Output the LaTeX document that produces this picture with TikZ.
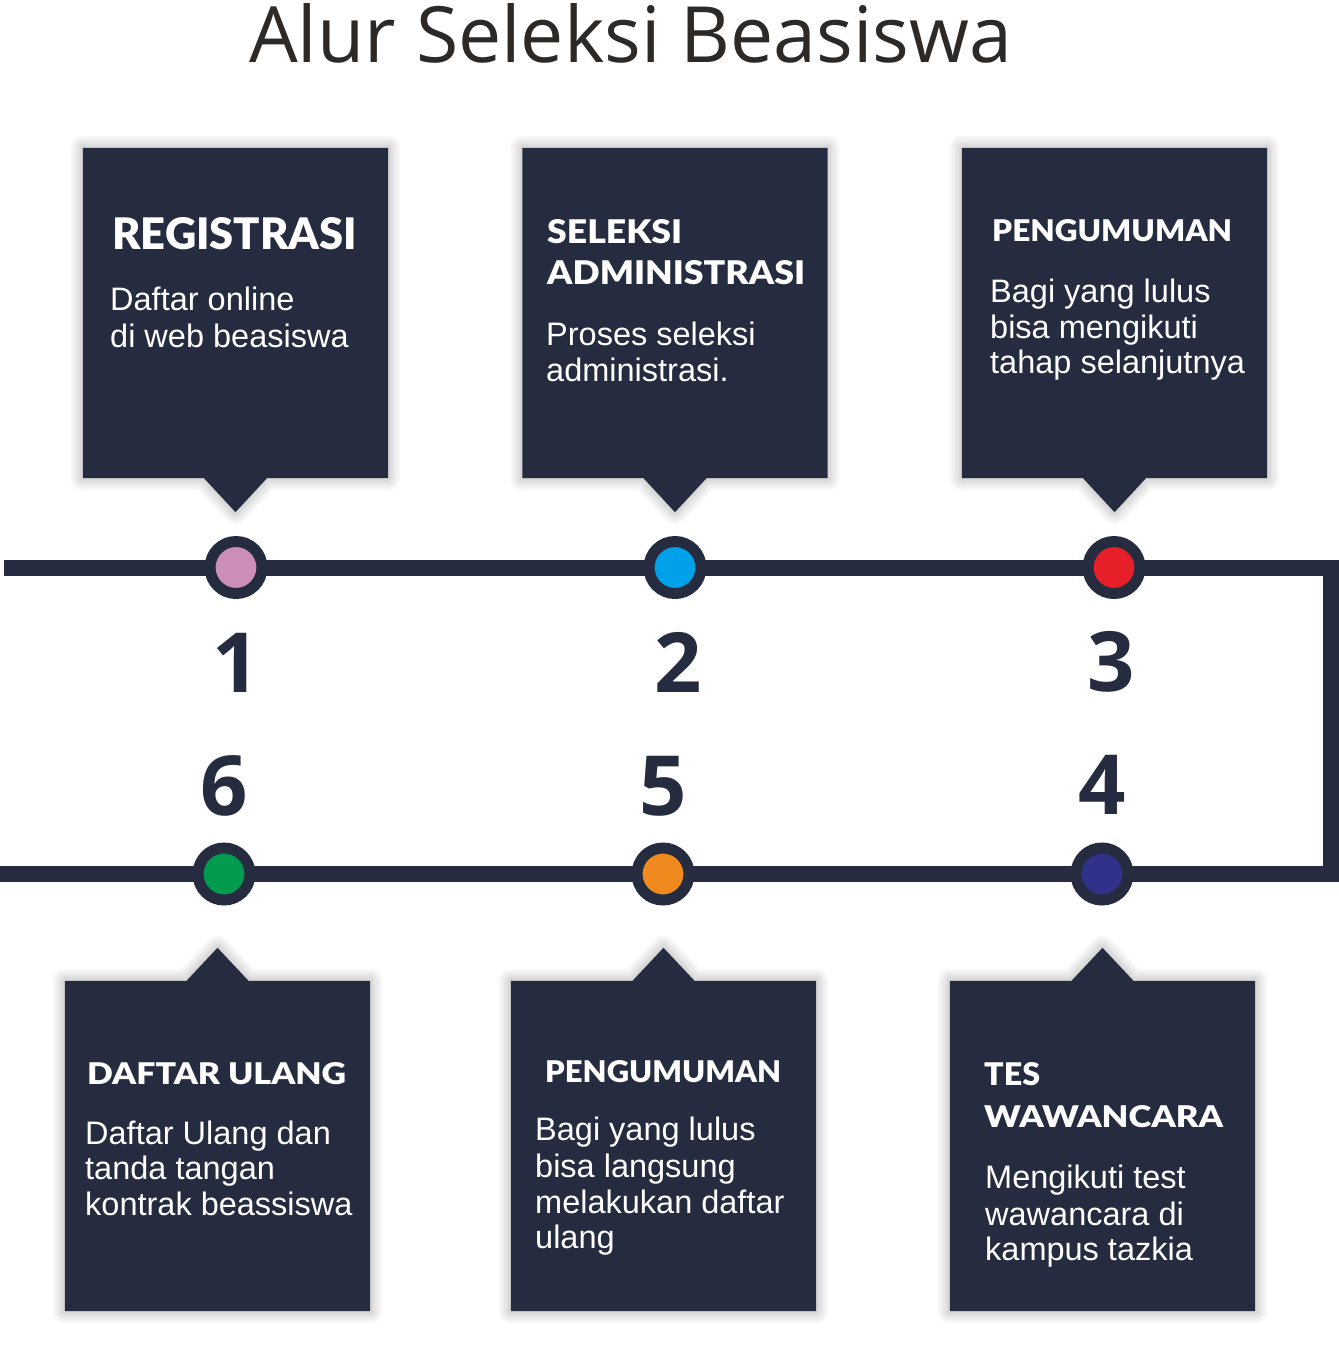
\documentclass[tikz,border=0pt]{standalone}
\usepackage{fontspec}
\setmainfont{Liberation Sans}
\newfontfamily\titlefont{Open Sans}
\newfontfamily\numfont{Open Sans}
\newfontfamily\headfont{Lato Black}
\usetikzlibrary{calc}
\definecolor{navy}{HTML}{262C3F}
\definecolor{titlecol}{HTML}{2D2926}
\definecolor{cpink}{HTML}{CC8DB9}
\definecolor{cblue}{HTML}{00A1E9}
\definecolor{cred}{HTML}{E52029}
\definecolor{cindigo}{HTML}{303189}
\definecolor{corange}{HTML}{F08A1E}
\definecolor{cgreen}{HTML}{009B4E}
\begin{document}
\begin{tikzpicture}[x=1pt,y=-1pt,
  panel/.style={rectangle, minimum width=305pt, minimum height=330pt, inner sep=0pt},
  shadowstroke/.style={draw=black, draw opacity=0.03, line join=round, yshift=-3pt},
  track/.style={draw=navy, line width=16pt, line join=miter, line cap=butt},
  dot/.style={circle, draw=navy, line width=11pt, minimum size=52pt, inner sep=0pt},
  num/.style={anchor=base, inner sep=0pt, text=navy, font=\numfont\bfseries\fontsize{83}{83}\selectfont},
  hd/.style={anchor=base west, inner sep=0pt, text=white, font=\headfont\fontsize{30}{30}\selectfont},
  body/.style={anchor=base west, inner sep=0pt, text=white, font=\fontsize{32.5}{36}\selectfont}]
\fill[white] (0,0) rectangle (1339,1358);
\useasboundingbox (0,0) rectangle (1339,1358);

% title
\node[anchor=base west, inner sep=0pt, text=titlecol] (title) at (249,62)
  {\titlefont\fontsize{60}{60}\selectfont\resizebox{763pt}{59pt}{Alur Seleksi Beasiswa}};

% panels
\node[panel] (b1) at (235.5,313) {};
\node[panel] (b2) at (675,313) {};
\node[panel] (b3) at (1114.5,313) {};
\node[panel] (b6) at (217.5,1146) {};
\node[panel] (b5) at (663.5,1146) {};
\node[panel] (b4) at (1102.5,1146) {};

\foreach \b in {b1,b2,b3}{
  \foreach \w in {24,19,14,9,5}{
    \draw[shadowstroke, line width=\w pt] (\b.north west) -- (\b.north east) -- (\b.south east)
      -- ($(\b.south)+(31.5,0)$) -- ($(\b.south)+(0,34)$) -- ($(\b.south)+(-31.5,0)$)
      -- (\b.south west) -- cycle;
  }
  \fill[navy] (\b.north west) -- (\b.north east) -- (\b.south east)
    -- ($(\b.south)+(31.5,0)$) -- ($(\b.south)+(0,34)$) -- ($(\b.south)+(-31.5,0)$)
    -- (\b.south west) -- cycle;
}
\foreach \b in {b4,b5,b6}{
  \foreach \w in {24,19,14,9,5}{
    \draw[shadowstroke, line width=\w pt] (\b.south west) -- (\b.south east) -- (\b.north east)
      -- ($(\b.north)+(31,0)$) -- ($(\b.north)+(0,-33)$) -- ($(\b.north)+(-31,0)$)
      -- (\b.north west) -- cycle;
  }
  \fill[navy] (\b.south west) -- (\b.south east) -- (\b.north east)
    -- ($(\b.north)+(31,0)$) -- ($(\b.north)+(0,-33)$) -- ($(\b.north)+(-31,0)$)
    -- (\b.north west) -- cycle;
}

% track
\coordinate (c1) at (236,567.5);
\coordinate (c2) at (675,567.5);
\coordinate (c3) at (1114,567.5);
\coordinate (c4) at (1102,874);
\coordinate (c5) at (663,874);
\coordinate (c6) at (224,874);
\coordinate (ls) at (4,567.5);
\coordinate (rt) at (1330.5,567.5);
\coordinate (rb) at (1330.5,874);
\coordinate (le) at (0,874);
\draw[track] (ls) -- (c1) -- (c2) -- (c3) -- (rt) -- (rb) -- (c4) -- (c5) -- (c6) -- (le);

\node[dot, fill=cpink] (n1) at (c1) {};
\node[dot, fill=cblue] (n2) at (c2) {};
\node[dot, fill=cred] (n3) at (c3) {};
\node[dot, fill=cindigo] (n4) at (c4) {};
\node[dot, fill=corange] (n5) at (c5) {};
\node[dot, fill=cgreen] (n6) at (c6) {};

% numbers
\node[num] (k1) at (236,692) {1};
\node[num] (k2) at (678,692) {2};
\node[num] (k3) at (1111,691) {3};
\node[num] (k4) at (1102,814) {4};
\node[num] (k5) at (663,815) {5};
\node[num] (k6) at (224,815) {6};

% headings
\node[hd] (h1) at (112,249) {\resizebox{245pt}{32pt}{REGISTRASI}};
\node[hd] (h2a) at (547,243) {\resizebox{135pt}{24pt}{SELEKSI}};
\node[hd] (h2b) at (547,284) {\resizebox{258pt}{24pt}{ADMINISTRASI}};
\node[hd] (h3) at (992,241) {\resizebox{240pt}{22pt}{PENGUMUMAN}};
\node[hd] (h6) at (87,1084) {\resizebox{259pt}{22pt}{DAFTAR ULANG}};
\node[hd] (h5) at (545,1082) {\resizebox{236pt}{22pt}{PENGUMUMAN}};
\node[hd] (h4a) at (984,1085) {\resizebox{56pt}{23pt}{TES}};
\node[hd] (h4b) at (984,1127) {\resizebox{239pt}{22pt}{WAWANCARA}};

% body texts
\node[body] (t1a) at (110,310) {Daftar online};
\node[body] (t1b) at (110,347) {di web beasiswa};
\node[body] (t2a) at (546,345) {Proses seleksi};
\node[body] (t2b) at (546,381) {administrasi.};
\node[body] (t3a) at (990,302) {Bagi yang lulus};
\node[body] (t3b) at (990,338) {bisa mengikuti};
\node[body] (t3c) at (990,373) {tahap selanjutnya};
\node[body] (t6a) at (85,1144) {Daftar Ulang dan};
\node[body] (t6b) at (85,1179) {tanda tangan};
\node[body] (t6c) at (85,1215) {kontrak beassiswa};
\node[body] (t5a) at (535,1140) {Bagi yang lulus};
\node[body] (t5b) at (535,1177) {bisa langsung};
\node[body] (t5c) at (535,1213) {melakukan daftar};
\node[body] (t5d) at (535,1248) {ulang};
\node[body] (t4a) at (985,1188) {Mengikuti test};
\node[body] (t4b) at (985,1225) {wawancara di};
\node[body] (t4c) at (985,1260) {kampus tazkia};
\end{tikzpicture}
\end{document}
